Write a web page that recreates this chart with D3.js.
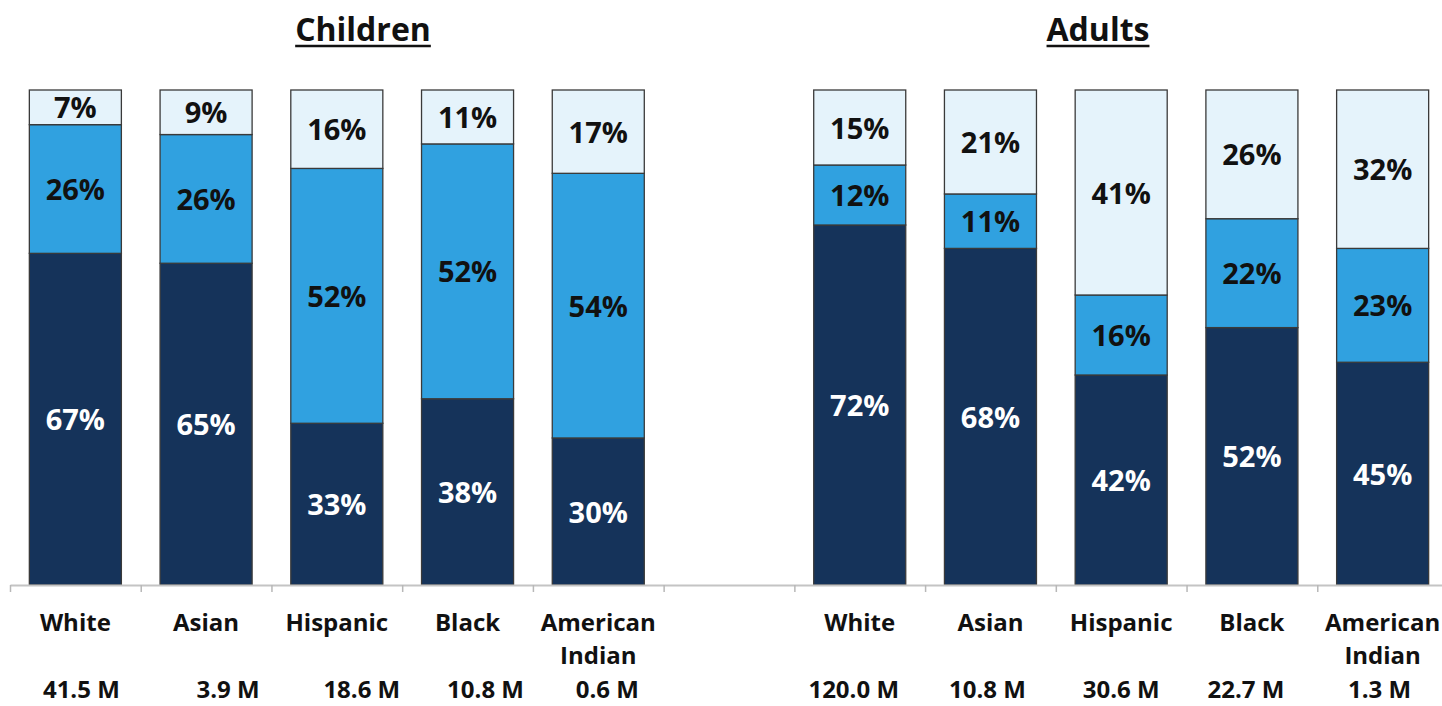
<!DOCTYPE html>
<html>
<head>
<meta charset="utf-8">
<script src="https://cdn.jsdelivr.net/npm/d3@7"></script>
<style>
  html, body { margin: 0; padding: 0; background: #fff; }
  svg { display: block; }
  text { font-family: "Open Sans", "DejaVu Sans", sans-serif; font-weight: 700; }
</style>
</head>
<body>
<svg id="chart" width="1442" height="706"></svg>
<script>
// ---- data ----
const groups = ["Children", "Adults"];
const categories = ["White", "Asian", "Hispanic", "Black", "American Indian"];

const childBottom = [67, 65, 33, 38, 30];
const childMiddle = [26, 26, 52, 52, 54];
const childTop    = [7, 9, 16, 11, 17];

const adultBottom = [72, 68, 42, 52, 45];
const adultMiddle = [12, 11, 16, 22, 23];
const adultTop    = [15, 21, 41, 26, 32];

const childPopulation = ["41.5 M", "3.9 M", "18.6 M", "10.8 M", "0.6 M"];
const adultPopulation = ["120.0 M", "10.8 M", "30.6 M", "22.7 M", "1.3 M"];

const segmentKeys = ["bottom", "middle", "top"];

// ---- layout ----
const axisLeft = 10, axisRight = 1448;
const yBase = 585, yTop = 90;
const segColors = { bottom: "#15335a", middle: "#30a1e0", top: "#e5f3fb" };
const segText = { bottom: "#ffffff", middle: "#111111", top: "#111111" };
const titleX = [363, 1098];
// small horizontal nudges for the population captions
const popNudge = [6, 22, 25, 18, 9, -6, -3, 0, -6, -3];

// one row per slot; slot 5 is an empty spacer between the groups
const rows = [];
categories.forEach((c, i) => rows.push({ slot: "c" + i, group: groups[0], category: c,
  bottom: childBottom[i], middle: childMiddle[i], top: childTop[i], pop: childPopulation[i] }));
rows.push({ slot: "gap", spacer: true });
categories.forEach((c, i) => rows.push({ slot: "a" + i, group: groups[1], category: c,
  bottom: adultBottom[i], middle: adultMiddle[i], top: adultTop[i], pop: adultPopulation[i] }));

const barRows = rows.filter(r => !r.spacer);

const svg = d3.select("#chart");

const x = d3.scaleBand()
  .domain(rows.map(r => r.slot))
  .range([axisLeft, axisRight])
  .paddingInner(0.296)
  .paddingOuter(0.148);

const y = d3.scaleLinear().domain([0, 1]).range([yBase, yTop]);

// each bar is a full 100% column
const stacked = d3.stack()
  .keys(segmentKeys)
  .offset(d3.stackOffsetExpand)(barRows);

// bars
const layers = svg.append("g").selectAll("g.layer")
  .data(stacked)
  .join("g")
  .attr("class", "layer")
  .attr("fill", d => segColors[d.key]);

layers.selectAll("rect")
  .data(d => d)
  .join("rect")
  .attr("x", d => x(d.data.slot))
  .attr("width", x.bandwidth())
  .attr("y", d => y(d[1]))
  .attr("height", d => y(d[0]) - y(d[1]))
  .attr("stroke", "#3a3a3a")
  .attr("stroke-width", 1.3);

// segment value labels
stacked.forEach(layer => {
  svg.append("g").selectAll("text")
    .data(layer)
    .join("text")
    .attr("x", d => x(d.data.slot) + x.bandwidth() / 2)
    .attr("y", d => (y(d[0]) + y(d[1])) / 2)
    .attr("dy", "0.38em")
    .attr("text-anchor", "middle")
    .attr("font-size", 29)
    .attr("fill", segText[layer.key])
    .text(d => d.data[layer.key] + "%");
});

// baseline axis with ticks on slot boundaries
const step = x.step();
const boundary = d3.scaleLinear().domain([0, rows.length]).range([axisLeft, axisLeft + step * rows.length]);
const axis = d3.axisBottom(boundary)
  .tickValues(d3.range(0, rows.length + 1))
  .tickSize(7)
  .tickSizeOuter(0)
  .tickFormat("");
const axisG = svg.append("g").attr("transform", `translate(0,${yBase})`).call(axis);
axisG.select(".domain").attr("stroke", "#c4c4c4").attr("stroke-width", 2);
axisG.selectAll(".tick line").attr("stroke", "#b8b8b8").attr("stroke-width", 1.5);

// category captions
const catG = svg.append("g");
barRows.forEach(r => {
  const cx = x(r.slot) + x.bandwidth() / 2;
  const lines = r.category === "American Indian" ? ["American", "Indian"] : [r.category];
  const t = catG.append("text")
    .attr("x", cx)
    .attr("y", 631)
    .attr("text-anchor", "middle")
    .attr("font-size", 24)
    .attr("fill", "#111");
  lines.forEach((ln, k) => {
    t.append("tspan").attr("x", cx).attr("dy", k === 0 ? 0 : 33).text(ln);
  });
});

// population captions
svg.append("g").selectAll("text")
  .data(barRows)
  .join("text")
  .attr("x", (d, i) => x(d.slot) + x.bandwidth() / 2 + popNudge[i])
  .attr("y", 698)
  .attr("text-anchor", "middle")
  .attr("font-size", 24)
  .attr("fill", "#111")
  .text(d => d.pop);

// group titles, underlined
groups.forEach((g, i) => {
  const t = svg.append("text")
    .attr("x", titleX[i])
    .attr("y", 41)
    .attr("text-anchor", "middle")
    .attr("font-size", 32)
    .attr("fill", "#111")
    .text(g);
  const bb = t.node().getBBox();
  svg.append("line")
    .attr("x1", bb.x).attr("x2", bb.x + bb.width)
    .attr("y1", 46).attr("y2", 46)
    .attr("stroke", "#111").attr("stroke-width", 2.5);
});
</script>
</body>
</html>
